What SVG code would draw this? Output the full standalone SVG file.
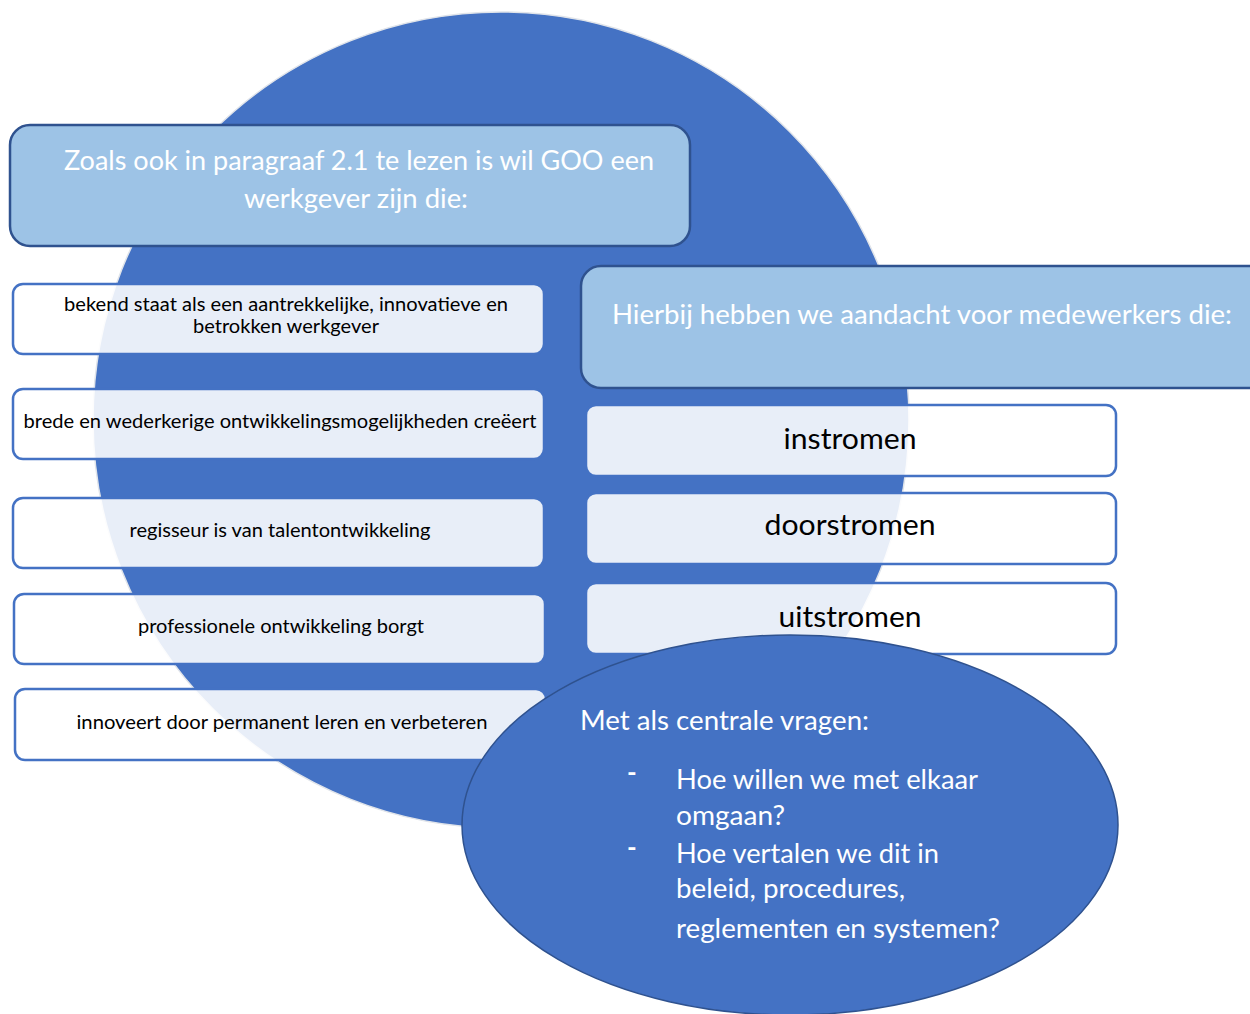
<svg xmlns="http://www.w3.org/2000/svg" width="1250" height="1014" viewBox="0 0 1250 1014">
<style>
.hdr{fill:#9DC3E6;stroke:#2F528F;stroke-width:2.5}
.item{fill:#ffffff;fill-opacity:0.88;stroke:#4472C4;stroke-width:2.5}
.wt{font-family:Lato,"Open Sans",sans-serif;fill:#ffffff;font-size:26px}
.bt{font-family:Lato,"Open Sans",sans-serif;fill:#000000;font-size:18.5px}
.big{font-family:Lato,"Open Sans",sans-serif;fill:#000000;font-size:29px}
</style>
<rect width="1250" height="1014" fill="#ffffff"/>
<g id="bg-circle">
<circle cx="501" cy="420" r="408" fill="#4472C4" stroke="#E0E4EA" stroke-width="1.5"/>
</g>
<g id="connectors"></g>
<g id="header-left">
<rect class="hdr" x="10" y="125" width="680" height="121" rx="20"/>
<text class="wt" x="359" y="170" text-anchor="middle" textLength="590" lengthAdjust="spacingAndGlyphs">Zoals ook in paragraaf 2.1 te lezen is wil GOO een</text>
<text class="wt" x="356" y="208" text-anchor="middle" textLength="224" lengthAdjust="spacingAndGlyphs">werkgever zijn die:</text>
</g>
<g id="item-1">
<rect class="item" x="13" y="284" width="531" height="70" rx="10"/>
<text class="bt" x="286" y="311" text-anchor="middle" textLength="444" lengthAdjust="spacingAndGlyphs">bekend staat als een aantrekkelijke, innovatieve en</text>
<text class="bt" x="286" y="333" text-anchor="middle" textLength="186" lengthAdjust="spacingAndGlyphs">betrokken werkgever</text>
</g>
<g id="item-2">
<rect class="item" x="13" y="389" width="531" height="70" rx="10"/>
<text class="bt" x="280" y="428" text-anchor="middle" textLength="513" lengthAdjust="spacingAndGlyphs">brede en wederkerige ontwikkelingsmogelijkheden creëert</text>
</g>
<g id="item-3">
<rect class="item" x="13" y="498" width="531" height="70" rx="10"/>
<text class="bt" x="280" y="537" text-anchor="middle" textLength="301" lengthAdjust="spacingAndGlyphs">regisseur is van talentontwikkeling</text>
</g>
<g id="item-4">
<rect class="item" x="14" y="594" width="531" height="70" rx="10"/>
<text class="bt" x="281" y="633" text-anchor="middle" textLength="286" lengthAdjust="spacingAndGlyphs">professionele ontwikkeling borgt</text>
</g>
<g id="item-5">
<rect class="item" x="15" y="689" width="531" height="71" rx="10"/>
<text class="bt" x="282" y="729" text-anchor="middle" textLength="411" lengthAdjust="spacingAndGlyphs">innoveert door permanent leren en verbeteren</text>
</g>
<g id="header-right">
<rect class="hdr" x="581" y="266" width="690" height="122" rx="20"/>
<text class="wt" x="612" y="324" textLength="620" lengthAdjust="spacingAndGlyphs">Hierbij hebben we aandacht voor medewerkers die:</text>
</g>
<g id="flow-1">
<rect class="item" x="586" y="405" width="530" height="71" rx="10"/>
<text class="big" x="850" y="449" text-anchor="middle" textLength="133" lengthAdjust="spacingAndGlyphs">instromen</text>
</g>
<g id="flow-2">
<rect class="item" x="586" y="493" width="530" height="71" rx="10"/>
<text class="big" x="850" y="535" text-anchor="middle" textLength="171" lengthAdjust="spacingAndGlyphs">doorstromen</text>
</g>
<g id="flow-3">
<rect class="item" x="586" y="583" width="530" height="71" rx="10"/>
<text class="big" x="850" y="627" text-anchor="middle" textLength="143" lengthAdjust="spacingAndGlyphs">uitstromen</text>
</g>
<g id="questions">
<ellipse cx="790" cy="825" rx="328" ry="190" fill="#4472C4" stroke="#2F528F" stroke-width="1.5"/>
<text class="wt" x="580" y="730" textLength="289" lengthAdjust="spacingAndGlyphs">Met als centrale vragen:</text>
<text class="wt" x="627" y="782" font-weight="bold">-</text>
<text class="wt" x="627" y="857" font-weight="bold">-</text>
<text class="wt" x="676" y="789" textLength="302" lengthAdjust="spacingAndGlyphs">Hoe willen we met elkaar</text>
<text class="wt" x="676" y="825" textLength="109" lengthAdjust="spacingAndGlyphs">omgaan?</text>
<text class="wt" x="676" y="863" textLength="263" lengthAdjust="spacingAndGlyphs">Hoe vertalen we dit in</text>
<text class="wt" x="676" y="898" textLength="229" lengthAdjust="spacingAndGlyphs">beleid, procedures,</text>
<text class="wt" x="676" y="938" textLength="324" lengthAdjust="spacingAndGlyphs">reglementen en systemen?</text>
</g>
</svg>
